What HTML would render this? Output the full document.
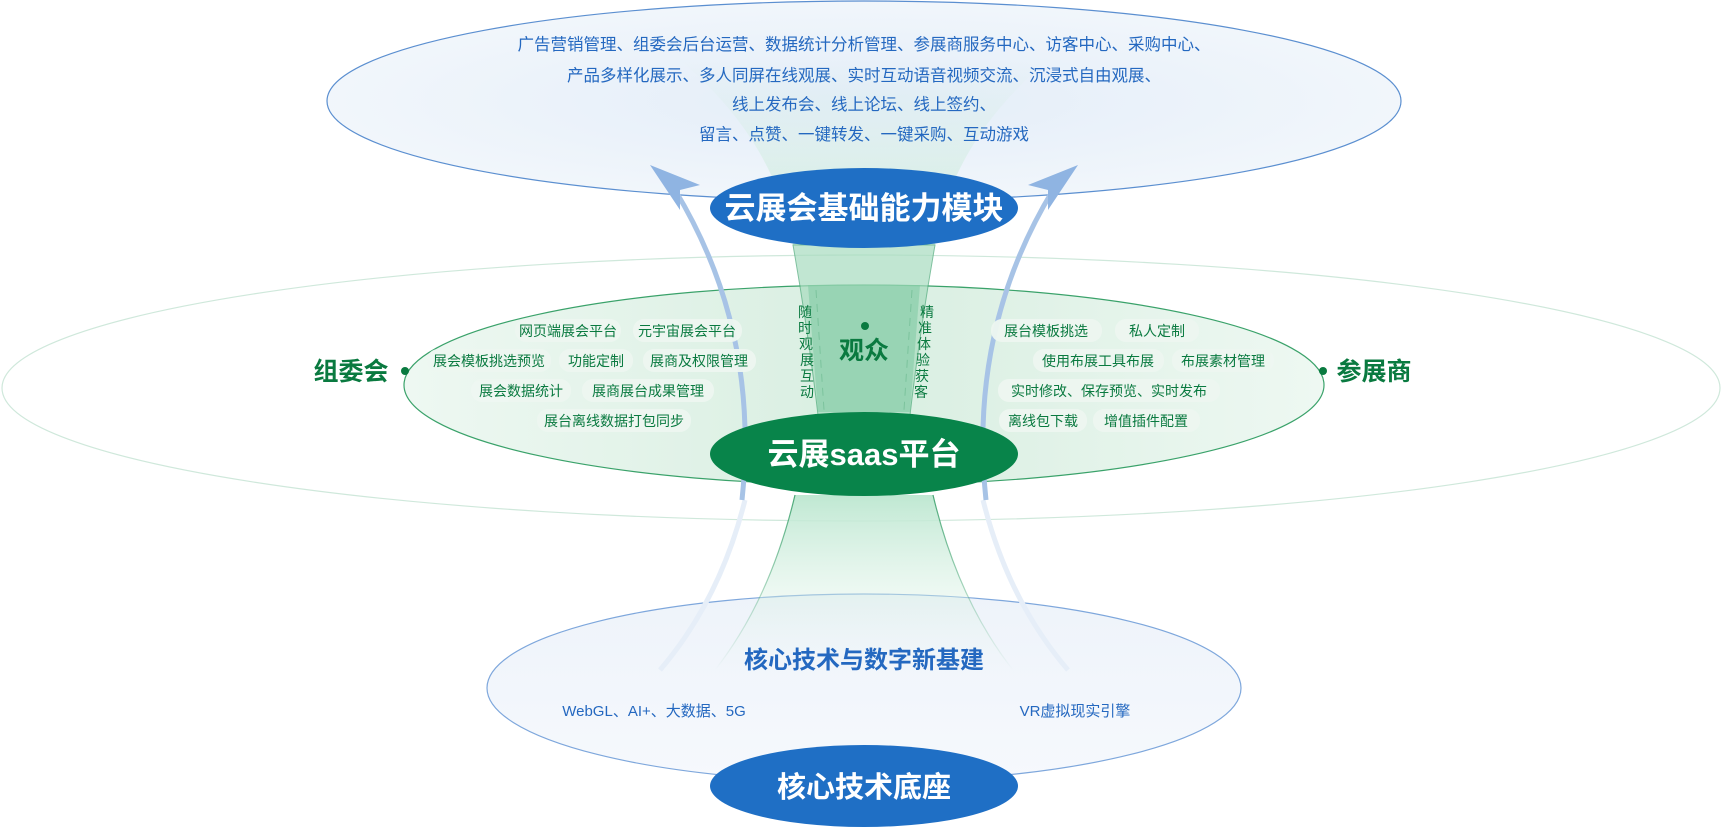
<!DOCTYPE html>
<html><head><meta charset="utf-8">
<style>
body{margin:0;width:1723px;height:827px;overflow:hidden;background:#fff;font-family:"Liberation Sans","Noto Sans CJK SC",sans-serif;}
svg{display:block}
text{font-family:"Liberation Sans","Noto Sans CJK SC",sans-serif}
</style></head><body>
<svg width="1723" height="827" viewBox="0 0 1723 827">
<defs>
<radialGradient id="gTop" cx="0.5" cy="0.5" r="0.6">
<stop offset="0" stop-color="#e3edf8"/><stop offset="1" stop-color="#f4f8fc"/></radialGradient>
<linearGradient id="gMidL" x1="0" x2="1"><stop offset="0" stop-color="#eef8f2"/><stop offset="1" stop-color="#c3e5d0"/></linearGradient>
<linearGradient id="gMidR" x1="1" x2="0"><stop offset="0" stop-color="#eef8f2"/><stop offset="1" stop-color="#c3e5d0"/></linearGradient>
<linearGradient id="gBot" x1="0" x2="0" y1="0" y2="1"><stop offset="0" stop-color="#eef3fa"/><stop offset="1" stop-color="#f6f9fd"/></linearGradient>
<linearGradient id="gFun" x1="0" x2="0" y1="0" y2="1"><stop offset="0" stop-color="#bfe8d2"/><stop offset="1" stop-color="#e8f6ee" stop-opacity="0"/></linearGradient>
<linearGradient id="gFunS" x1="0" x2="0" y1="0" y2="1"><stop offset="0" stop-color="#4aa877"/><stop offset="1" stop-color="#4aa877" stop-opacity="0"/></linearGradient>
<linearGradient id="gTopF" x1="0" x2="0" y1="0" y2="1"><stop offset="0" stop-color="#d7efe6" stop-opacity="0"/><stop offset="1" stop-color="#cdeadc"/></linearGradient>
<clipPath id="cl"><rect x="0" y="0" width="864" height="827"/></clipPath>
<clipPath id="cr"><rect x="864" y="0" width="864" height="827"/></clipPath>
</defs>
<ellipse cx="861" cy="388" rx="859" ry="133" fill="none" stroke="#cfe8db" stroke-width="1.2"/>
<ellipse cx="864" cy="101" rx="537" ry="100" fill="url(#gTop)" stroke="#5b8fd0" stroke-width="1.2"/>
<ellipse cx="864" cy="688" rx="377" ry="94" fill="url(#gBot)" stroke="#7ea7dc" stroke-width="1.2"/>
<path d="M680 60 Q775 140 793 245 L935 245 Q953 140 1048 60 Z" fill="url(#gTopF)"/>
<ellipse cx="864" cy="385" rx="460" ry="100" fill="url(#gMidL)" clip-path="url(#cl)" stroke="#3aa26a" stroke-width="1.2"/>
<ellipse cx="864" cy="385" rx="460" ry="100" fill="url(#gMidR)" clip-path="url(#cr)" stroke="#3aa26a" stroke-width="1.2"/>
<path d="M793 245 Q808 330 818 415 L910 415 Q920 330 935 245 Z" fill="#a8dcbf" opacity="0.7" stroke="#4aa877" stroke-width="1"/>
<path d="M808 285 L818 412 L910 412 L920 285 Z" fill="#7fcaa2" opacity="0.55"/>
<path d="M816 290 L824 410 M912 290 L904 410" stroke="#7cc39d" stroke-dasharray="8 6" fill="none"/>
<path d="M795 495 Q770 600 715 670 L1013 670 Q958 600 933 495 Z" fill="url(#gFun)"/>
<path d="M795 495 Q770 600 715 670 M933 495 Q958 600 1013 670" fill="none" stroke="url(#gFunS)" stroke-width="1.2"/>
<path d="M745 500 Q720 600 660 670" stroke="#e6eef8" stroke-width="5" fill="none"/>
<path d="M983 500 Q1008 600 1068 670" stroke="#e6eef8" stroke-width="5" fill="none"/>
<path d="M742 500 Q760 330 675 190" stroke="#a7c3e6" stroke-width="5" fill="none"/>
<path d="M986 500 Q968 330 1053 190" stroke="#a7c3e6" stroke-width="5" fill="none"/>
<polygon points="650,165 700,185 680,190 680,210" fill="#8fb4e2"/>
<polygon points="1078,165 1028,185 1048,190 1048,210" fill="#8fb4e2"/>
<ellipse cx="864" cy="208" rx="154" ry="40" fill="#1f6fc5"/>
<text x="864" y="219" text-anchor="middle" font-size="31" font-weight="bold" fill="#fff">云展会基础能力模块</text>
<ellipse cx="864" cy="454" rx="154" ry="42" fill="#08844a"/>
<text x="864" y="465" text-anchor="middle" font-size="31" font-weight="bold" fill="#fff">云展saas平台</text>
<ellipse cx="864" cy="786" rx="154" ry="41" fill="#1f6fc5"/>
<text x="864" y="797" text-anchor="middle" font-size="29" font-weight="bold" fill="#fff">核心技术底座</text>
<g font-size="16.5" fill="#2468c0" text-anchor="middle">
<text x="864" y="50">广告营销管理、组委会后台运营、数据统计分析管理、参展商服务中心、访客中心、采购中心、</text>
<text x="864" y="81">产品多样化展示、多人同屏在线观展、实时互动语音视频交流、沉浸式自由观展、</text>
<text x="864" y="110">线上发布会、线上论坛、线上签约、</text>
<text x="864" y="140">留言、点赞、一键转发、一键采购、互动游戏</text>
</g>
<circle cx="865" cy="326" r="4" fill="#0a7a40"/>
<text x="864" y="359" text-anchor="middle" font-size="25" font-weight="bold" fill="#0a7a40">观众</text>
<g font-size="14" fill="#0a7a40" text-anchor="middle">
<text x="805" y="317">随</text><text x="805" y="333">时</text><text x="806" y="349">观</text><text x="807" y="365">展</text><text x="807" y="381">互</text><text x="807" y="397">动</text>
<text x="927" y="317">精</text><text x="925" y="333">准</text><text x="924" y="349">体</text><text x="923" y="365">验</text><text x="922" y="381">获</text><text x="921" y="397">客</text>
</g>
<circle cx="405" cy="371" r="4" fill="#0a7a40"/>
<text x="351" y="380" text-anchor="middle" font-size="25" font-weight="bold" fill="#0a7a40">组委会</text>
<circle cx="1323" cy="371" r="4" fill="#0a7a40"/>
<text x="1374" y="380" text-anchor="middle" font-size="25" font-weight="bold" fill="#0a7a40">参展商</text>
<g font-size="14" fill="#0a7a40" text-anchor="middle">
<g fill="#eef7f1" opacity="0.95">
<rect x="515" y="319" width="106" height="23" rx="11"/><rect x="633" y="319" width="109" height="23" rx="11"/>
<rect x="427" y="349" width="124" height="23" rx="11"/><rect x="559" y="349" width="74" height="23" rx="11"/><rect x="643" y="349" width="113" height="23" rx="11"/>
<rect x="471" y="379" width="100" height="23" rx="11"/><rect x="582" y="379" width="132" height="23" rx="11"/>
<rect x="537" y="409" width="154" height="23" rx="11"/>
<rect x="991" y="319" width="111" height="23" rx="11"/><rect x="1115" y="319" width="84" height="23" rx="11"/>
<rect x="1033" y="349" width="131" height="23" rx="11"/><rect x="1172" y="349" width="102" height="23" rx="11"/>
<rect x="998" y="379" width="222" height="23" rx="11"/>
<rect x="999" y="409" width="88" height="23" rx="11"/><rect x="1093" y="409" width="107" height="23" rx="11"/>
</g>
<text x="568" y="336">网页端展会平台</text><text x="687" y="336">元宇宙展会平台</text>
<text x="489" y="366">展会模板挑选预览</text><text x="596" y="366">功能定制</text><text x="699" y="366">展商及权限管理</text>
<text x="521" y="396">展会数据统计</text><text x="648" y="396">展商展台成果管理</text>
<text x="614" y="426">展台离线数据打包同步</text>
<text x="1046" y="336">展台模板挑选</text><text x="1157" y="336">私人定制</text>
<text x="1098" y="366">使用布展工具布展</text><text x="1223" y="366">布展素材管理</text>
<text x="1109" y="396">实时修改、保存预览、实时发布</text>
<text x="1043" y="426">离线包下载</text><text x="1146" y="426">增值插件配置</text>
</g>
<text x="864" y="668" text-anchor="middle" font-size="24" font-weight="bold" fill="#2468c0">核心技术与数字新基建</text>
<text x="654" y="716" text-anchor="middle" font-size="15" fill="#2468c0">WebGL、AI+、大数据、5G</text>
<text x="1075" y="716" text-anchor="middle" font-size="15" fill="#2468c0">VR虚拟现实引擎</text>
</svg>
</body></html>
